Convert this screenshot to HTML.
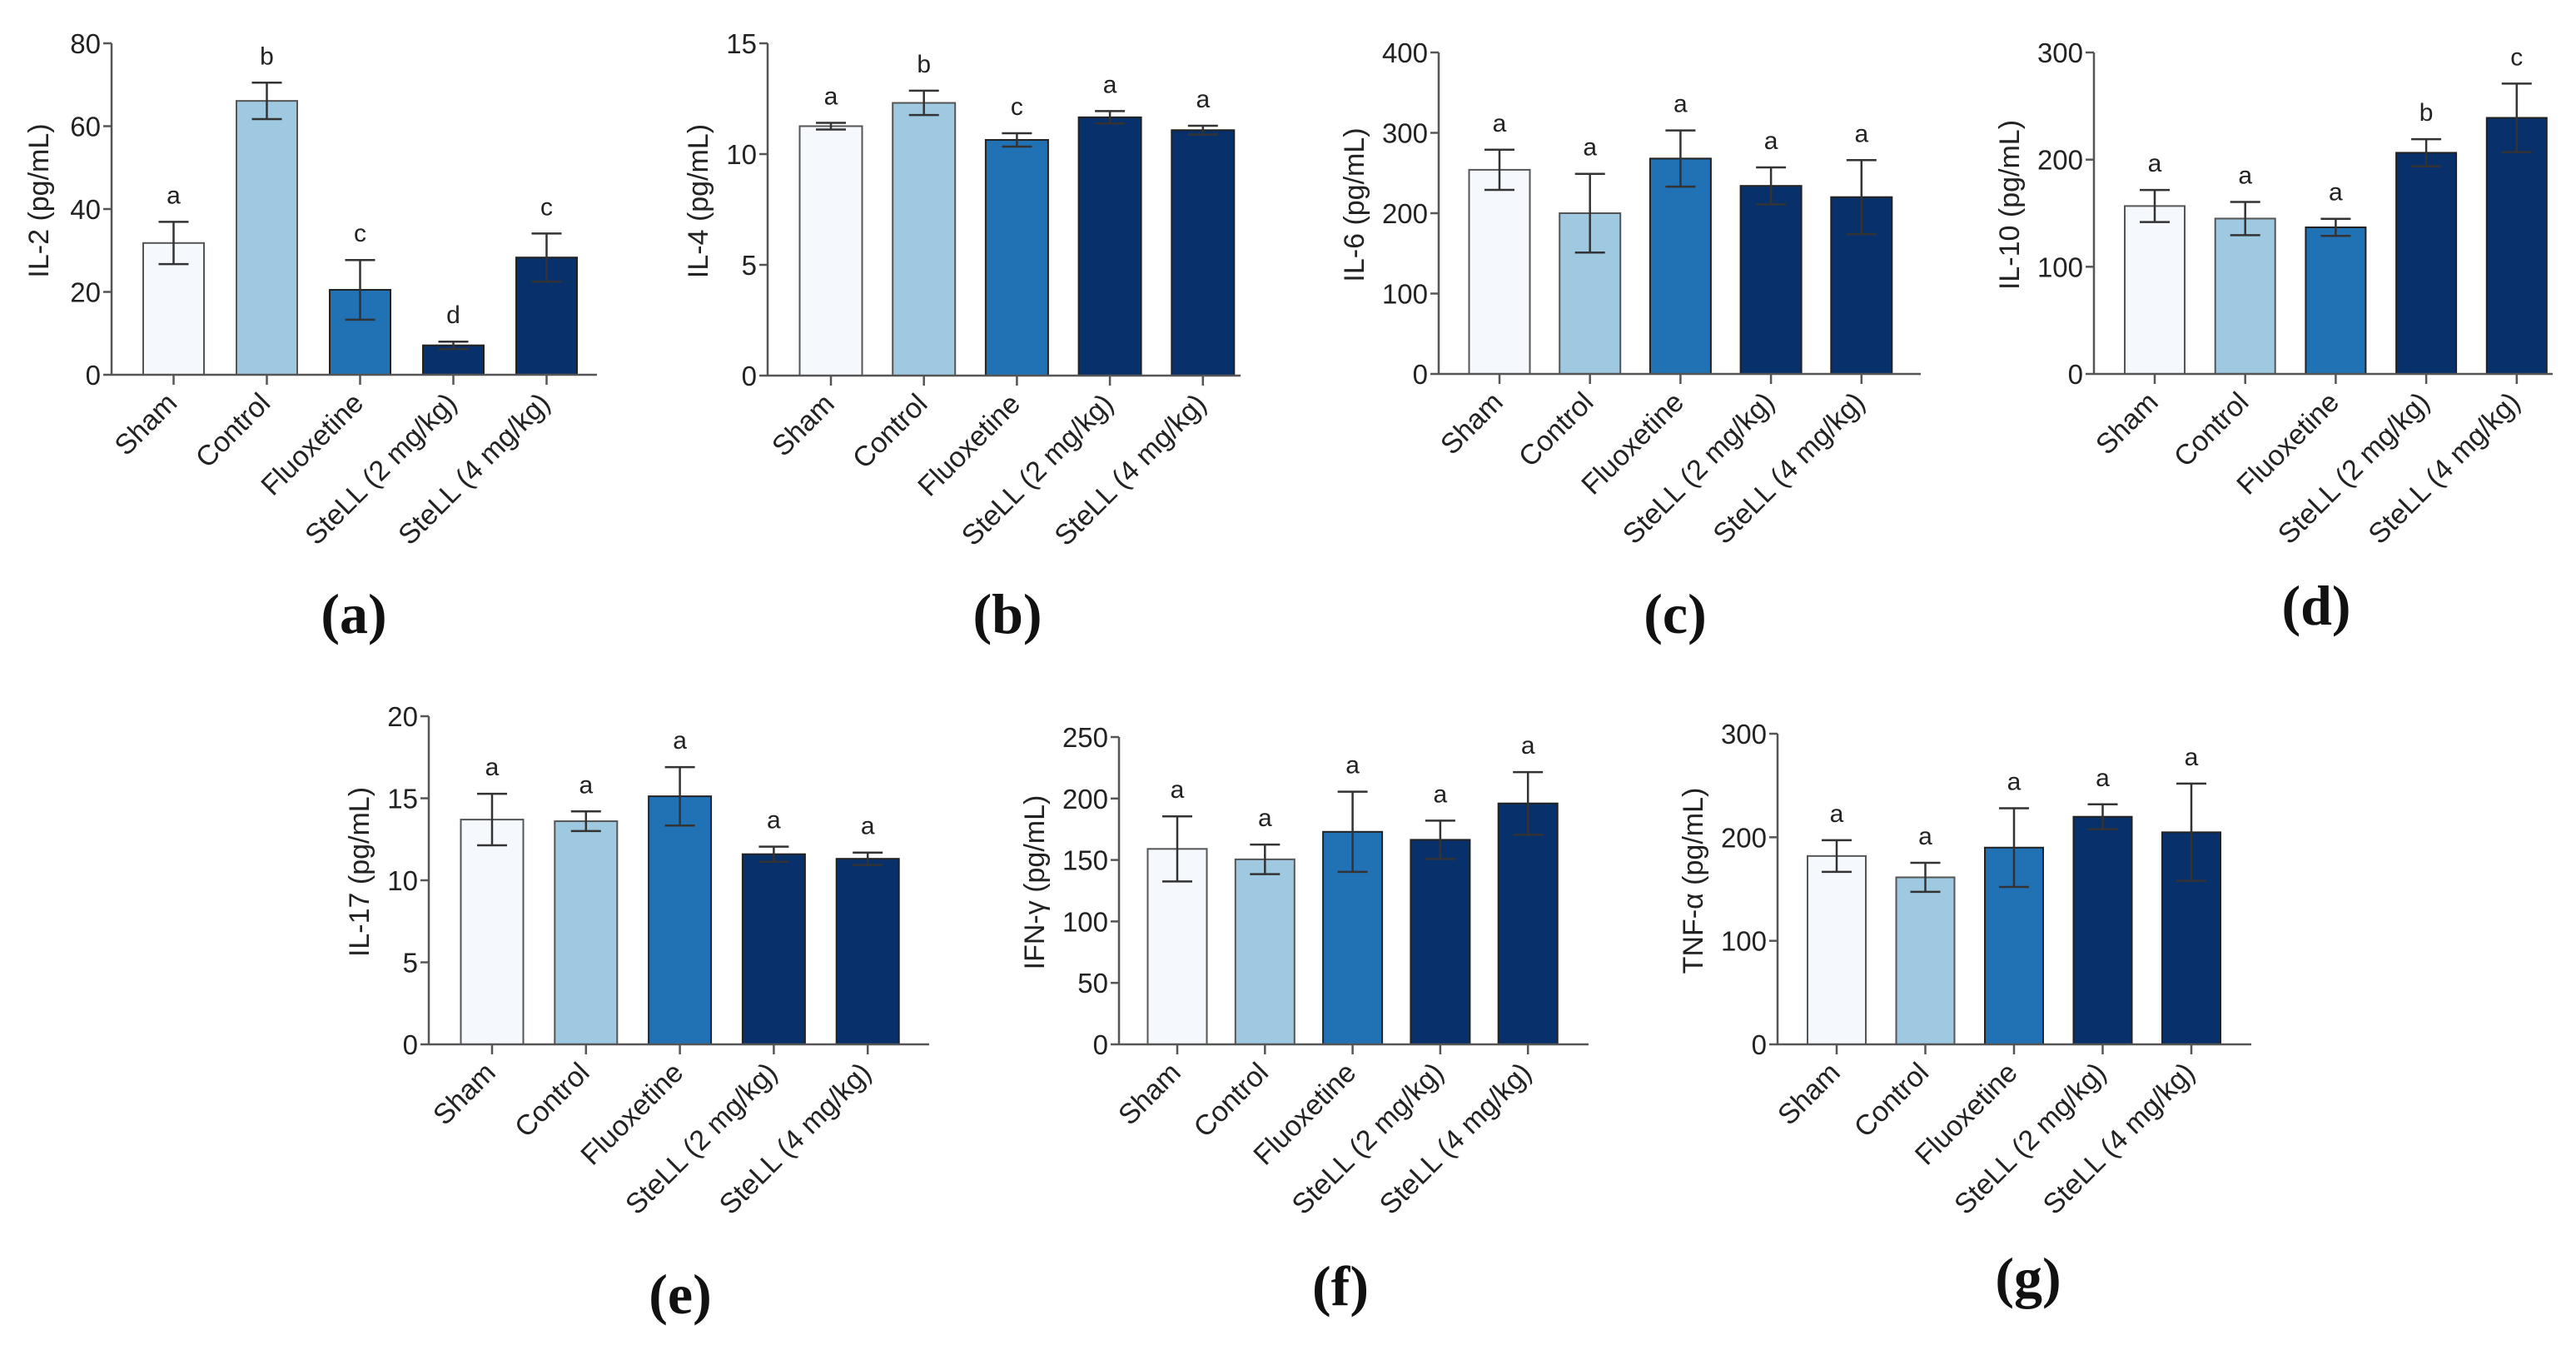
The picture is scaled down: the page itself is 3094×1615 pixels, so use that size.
<!DOCTYPE html>
<html><head><meta charset="utf-8"><style>
html,body{margin:0;padding:0;background:#fff;}
svg{display:block;font-family:"Liberation Sans",Arial,sans-serif;}
.tick{font-size:33px;fill:#222;}
.cat{font-size:34px;fill:#222;}
.ttl{font-size:34px;fill:#222;}
.sig{font-size:30px;fill:#222;}
.plab{font-family:"Liberation Serif","DejaVu Serif",serif;font-weight:bold;font-size:68px;fill:#111;}
</style></head><body>
<svg id="fig" width="3094" height="1615" viewBox="0 0 3094 1615" xmlns="http://www.w3.org/2000/svg"></svg>
<script>
const categories = ["Sham", "Control", "Fluoxetine", "SteLL (2 mg/kg)", "SteLL (4 mg/kg)"];
const colors = ["#f5f9fe", "#9ec9e1", "#2171b5", "#08306b", "#08306b"];

const il2Means = [31.8, 66.1, 20.5, 7.1, 28.3];
const il2Errors = [5.1, 4.4, 7.2, 0.9, 5.8];
const il2Letters = ["a", "b", "c", "d", "c"];
const il2Ticks = [0, 20, 40, 60, 80];

const il4Means = [11.26, 12.31, 10.64, 11.66, 11.08];
const il4Errors = [0.15, 0.55, 0.3, 0.28, 0.2];
const il4Letters = ["a", "b", "c", "a", "a"];
const il4Ticks = [0, 5, 10, 15];

const il6Means = [254, 200, 268, 234, 220];
const il6Errors = [25, 49, 35, 23, 46];
const il6Letters = ["a", "a", "a", "a", "a"];
const il6Ticks = [0, 100, 200, 300, 400];

const il10Means = [156.7, 145, 136.8, 206.4, 239];
const il10Errors = [15, 15.5, 8, 12.7, 32];
const il10Letters = ["a", "a", "a", "b", "c"];
const il10Ticks = [0, 100, 200, 300];

const il17Means = [13.7, 13.6, 15.12, 11.59, 11.31];
const il17Errors = [1.57, 0.6, 1.78, 0.46, 0.38];
const il17Letters = ["a", "a", "a", "a", "a"];
const il17Ticks = [0, 5, 10, 15, 20];

const ifnMeans = [159, 150.5, 172.9, 166.4, 196];
const ifnErrors = [26.5, 12, 32.6, 15.6, 25.5];
const ifnLetters = ["a", "a", "a", "a", "a"];
const ifnTicks = [0, 50, 100, 150, 200, 250];

const tnfMeans = [181.9, 161.3, 190, 219.8, 204.8];
const tnfErrors = [15.3, 14, 38, 12, 47];
const tnfLetters = ["a", "a", "a", "a", "a"];
const tnfTicks = [0, 100, 200, 300];

const NS = "http://www.w3.org/2000/svg";
const svg = document.getElementById("fig");
function mk(tag, attrs, parent) {
  const e = document.createElementNS(NS, tag);
  for (const k in attrs) e.setAttribute(k, attrs[k]);
  (parent || svg).appendChild(e);
  return e;
}

function drawPanel(cfg, means, errors, letters, ticks) {
  const g = mk("g", {});
  
  
  const yMax = ticks[ticks.length - 1];
  const yScale = v => cfg.zero - (v / yMax) * (cfg.zero - cfg.top);
  const xScale = i => cfg.c0 + i * cfg.step;

  const ya = mk("line", {x1: cfg.ax, y1: cfg.top, x2: cfg.ax, y2: cfg.zero, stroke: "#555", "stroke-width": 2.5}, g);
  
  
  ticks.forEach(t => {
    const y = yScale(t);
    const tl = mk("line", {x1: cfg.ax - 10, y1: y, x2: cfg.ax, y2: y, stroke: "#555", "stroke-width": 2.5}, g);
    
    
    const tx = mk("text", {x: cfg.ax - 13, y: y + 12, "text-anchor": "end", class: "tick"}, g);
    tx.textContent = t;
    
    
  });
  const my = (cfg.top + cfg.zero) / 2 - 10;
  const tx0 = cfg.ax - cfg.toff;
  const tt = mk("text", {x: tx0, y: my, "text-anchor": "middle", class: "ttl", transform: `rotate(-90 ${tx0} ${my})`}, g);
  tt.textContent = cfg.title;
  
  

  means.forEach((m, i) => {
    const cx = xScale(i);
    const y = yScale(m);
    const r = mk("rect", {x: cx - cfg.w / 2, y: y, width: cfg.w, height: cfg.zero - y, fill: colors[i], stroke: i < 2 ? "#555" : "#222", "stroke-width": 2}, g);
    
    
    const yHi = yScale(m + errors[i]);
    const yLo = yScale(m - errors[i]);
    const eb = mk("path", {d: `M${cx},${yHi}V${yLo}M${cx - 18},${yHi}H${cx + 18}M${cx - 18},${yLo}H${cx + 18}`, stroke: "#333", "stroke-width": 2.5, fill: "none"}, g);
    
    
    const s = mk("text", {x: cx, y: yHi - 22, "text-anchor": "middle", class: "sig"}, g);
    s.textContent = letters[i];
    
    
    const xt = mk("line", {x1: cx, y1: cfg.zero, x2: cx, y2: cfg.zero + 12, stroke: "#555", "stroke-width": 2.5}, g);
    
    
    const lx = cx + 6, ly = cfg.zero + 36;
    const cl = mk("text", {x: lx, y: ly, "text-anchor": "end", class: "cat", transform: `rotate(-45 ${lx} ${ly})`}, g);
    cl.textContent = categories[i];
    
    
  });
  const xa = mk("line", {x1: cfg.ax, y1: cfg.zero, x2: cfg.end, y2: cfg.zero, stroke: "#555", "stroke-width": 2.5}, g);
  
  
  const pl = mk("text", {x: cfg.lx, y: cfg.ly, "text-anchor": "middle", class: "plab"}, g);
  pl.textContent = "(" + cfg.key + ")";
  
  
}

drawPanel({key: "a", title: "IL-2 (pg/mL)", toff: 76, ax: 134, end: 717, top: 52, zero: 450, c0: 208.5, step: 112, w: 73, lx: 425, ly: 760}, il2Means, il2Errors, il2Letters, il2Ticks);
drawPanel({key: "b", title: "IL-4 (pg/mL)", toff: 72, ax: 922, end: 1490, top: 52, zero: 451, c0: 998, step: 111.7, w: 75, lx: 1210, ly: 760}, il4Means, il4Errors, il4Letters, il4Ticks);
drawPanel({key: "c", title: "IL-6 (pg/mL)", toff: 90, ax: 1728, end: 2307, top: 63, zero: 449, c0: 1801, step: 108.7, w: 73, lx: 2012, ly: 760}, il6Means, il6Errors, il6Letters, il6Ticks);
drawPanel({key: "d", title: "IL-10 (pg/mL)", toff: 90, ax: 2515, end: 3066, top: 63, zero: 449, c0: 2588, step: 108.7, w: 72, lx: 2782, ly: 750}, il10Means, il10Errors, il10Letters, il10Ticks);
drawPanel({key: "e", title: "IL-17 (pg/mL)", toff: 72, ax: 515, end: 1116, top: 860, zero: 1254, c0: 591, step: 112.8, w: 75, lx: 817, ly: 1577}, il17Means, il17Errors, il17Letters, il17Ticks);
drawPanel({key: "f", title: "IFN-γ (pg/mL)", toff: 90, ax: 1344, end: 1908, top: 885, zero: 1254, c0: 1414, step: 105.3, w: 71, lx: 1610, ly: 1567}, ifnMeans, ifnErrors, ifnLetters, ifnTicks);
drawPanel({key: "g", title: "TNF-α (pg/mL)", toff: 90, ax: 2135, end: 2704, top: 881, zero: 1254, c0: 2206, step: 106.5, w: 70, lx: 2436, ly: 1557}, tnfMeans, tnfErrors, tnfLetters, tnfTicks);
</script>
</body></html>
